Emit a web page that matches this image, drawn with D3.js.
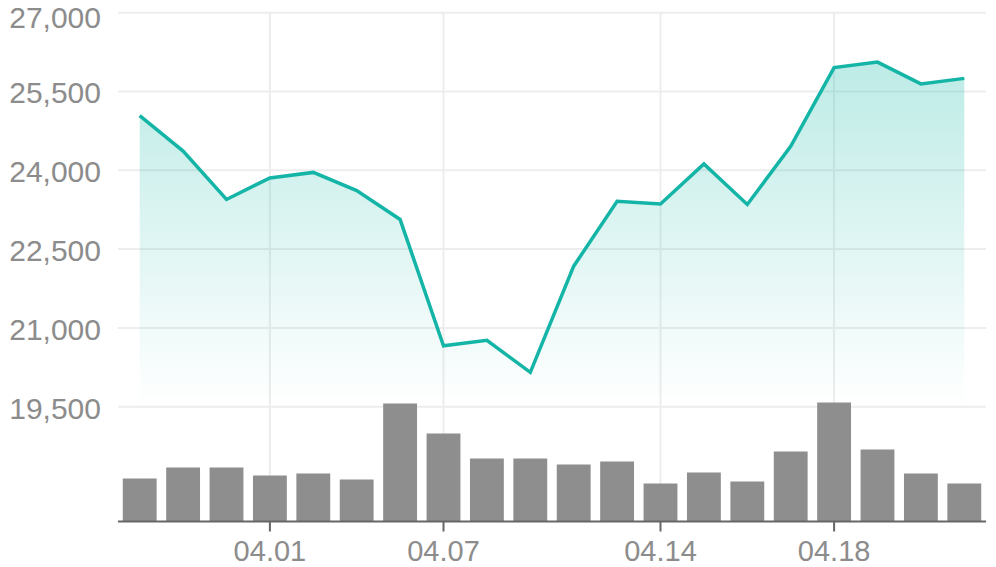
<!DOCTYPE html>
<html>
<head>
<meta charset="utf-8">
<script src="https://cdn.jsdelivr.net/npm/d3@7"></script>
<style>
  html, body { margin: 0; padding: 0; background: #fff; }
  svg { display: block; }
</style>
</head>
<body>
<svg id="chart" width="996" height="567"></svg>
<script>
// ---- data ----
const dates = ["03.27","03.28","03.31","04.01","04.02","04.03","04.04","04.07","04.08","04.09",
               "04.10","04.11","04.14","04.15","04.16","04.17","04.18","04.21","04.22","04.23"];
const prices = [25040, 24365, 23445, 23855, 23960, 23615, 23065, 20660, 20765, 20155,
                22175, 23410, 23360, 24120, 23350, 24455, 25955, 26060, 25645, 25750];
const volumes = [43, 54, 54, 46, 48, 42, 118, 88, 63, 63,
                 57, 60, 38, 49, 40, 70, 119, 72, 48, 38];
const xTickLabels = ["04.01", "04.07", "04.14", "04.18"];
const yTicks = [19500, 21000, 22500, 24000, 25500, 27000];

// ---- layout ----
const svg = d3.select("#chart");
const plotLeft = 118, plotRight = 986, plotTop = 12.7, priceBottom = 406.7, axisY = 521.5;

const x = d3.scaleBand().domain(dates).range([plotLeft, plotRight]).paddingInner(0.22).paddingOuter(0.11);
const y = d3.scaleLinear().domain([19500, 27000]).range([priceBottom, plotTop]);
const yVol = d3.scaleLinear().domain([0, 120]).range([axisY, axisY - 120]);
const cx = d => x(d) + x.bandwidth() / 2;

const defs = svg.append("defs");
const grad = defs.append("linearGradient").attr("id", "areaGrad")
  .attr("gradientUnits", "userSpaceOnUse")
  .attr("x1", 0).attr("x2", 0).attr("y1", y(d3.max(prices))).attr("y2", priceBottom);
grad.append("stop").attr("offset", "0%").attr("stop-color", "#14b8a6").attr("stop-opacity", 0.28);
grad.append("stop").attr("offset", "100%").attr("stop-color", "#14b8a6").attr("stop-opacity", 0.0);

// horizontal grid
svg.append("g").selectAll("line").data(yTicks).join("line")
  .attr("x1", plotLeft).attr("x2", plotRight)
  .attr("y1", d => y(d)).attr("y2", d => y(d))
  .attr("stroke", "#ededed").attr("stroke-width", 2);

// vertical grid
svg.append("g").selectAll("line").data(xTickLabels).join("line")
  .attr("x1", d => cx(d)).attr("x2", d => cx(d))
  .attr("y1", plotTop).attr("y2", axisY)
  .attr("stroke", "#ededed").attr("stroke-width", 2);

// area
const pts = dates.map((d, i) => ({ d, v: prices[i] }));
svg.append("path").datum(pts)
  .attr("fill", "url(#areaGrad)")
  .attr("d", d3.area().x(p => cx(p.d)).y0(priceBottom).y1(p => y(p.v)));

// bars
svg.append("g").selectAll("rect").data(dates).join("rect")
  .attr("x", d => x(d)).attr("width", x.bandwidth())
  .attr("y", (d, i) => yVol(volumes[i]))
  .attr("height", (d, i) => axisY - yVol(volumes[i]))
  .attr("fill", "#8e8e8e");

// line
svg.append("path").datum(pts)
  .attr("fill", "none").attr("stroke", "#14b5a6").attr("stroke-width", 3.5)
  .attr("stroke-linejoin", "miter")
  .attr("d", d3.line().x(p => cx(p.d)).y(p => y(p.v)));

// y axis labels
const yAxis = d3.axisLeft(y).tickValues(yTicks).tickSize(0).tickPadding(0)
  .tickFormat(d3.format(","));
const gy = svg.append("g").attr("transform", `translate(101,0)`).call(yAxis);
gy.select(".domain").remove();
gy.selectAll("text")
  .attr("fill", "#8c8c8c")
  .attr("font-family", "Liberation Sans, Arial, sans-serif")
  .attr("font-size", 30)
  .attr("dy", d => d === 27000 ? "0.48em" : "0.38em");

// x axis
const xAxis = d3.axisBottom(x).tickValues(xTickLabels).tickSize(10).tickPadding(9);
const gx = svg.append("g").attr("transform", `translate(0,${axisY})`).call(xAxis);
gx.select(".domain").attr("d", `M${plotLeft},0H${plotRight}`).attr("stroke", "#666").attr("stroke-width", 2);
gx.selectAll(".tick line").attr("stroke", "#666").attr("stroke-width", 2);
gx.selectAll("text")
  .attr("fill", "#8c8c8c")
  .attr("font-family", "Liberation Sans, Arial, sans-serif")
  .attr("font-size", 29);
</script>
</body>
</html>
